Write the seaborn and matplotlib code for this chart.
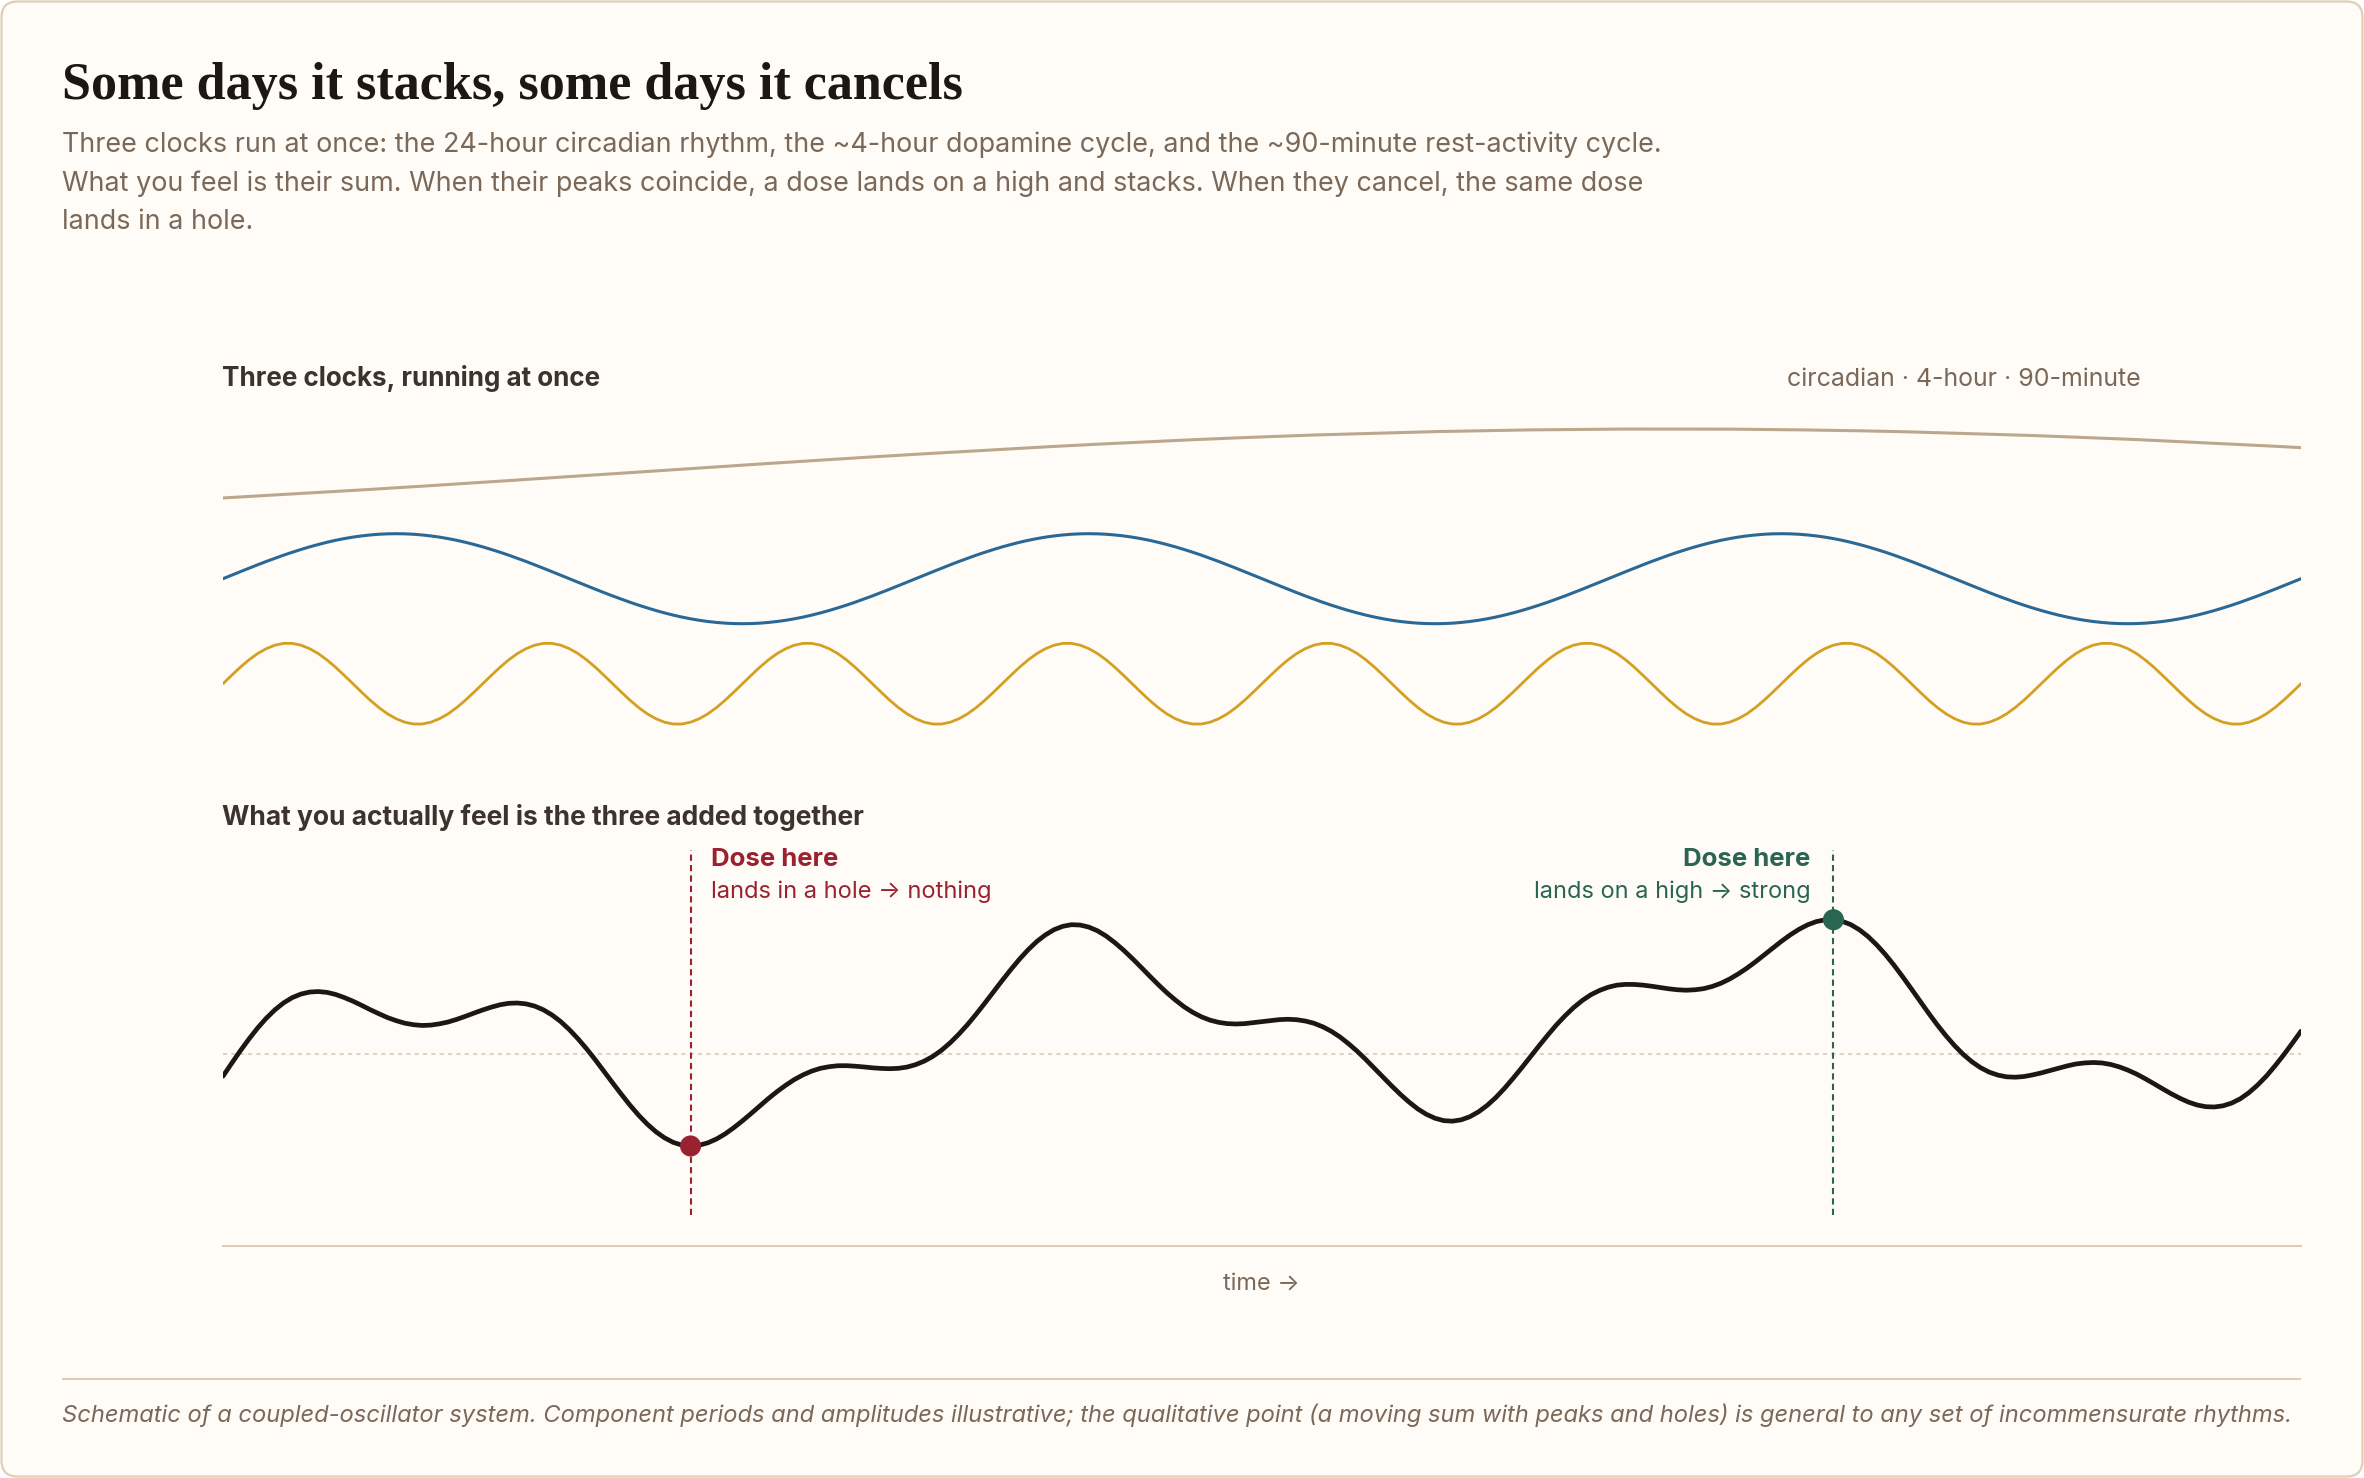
import matplotlib
matplotlib.use("Agg")
import matplotlib.pyplot as plt
from matplotlib.patches import FancyBboxPatch
import pandas as pd
import seaborn as sns

# --- data: three clocks, one sample every 3 minutes over 12 h ---
# units: dopamine swing = 1
minutes = list(range(0, 721, 3))

# 24 h circadian, peaks ~8h20 in
circadian = [
    -0.304, -0.298, -0.292, -0.287, -0.281, -0.275, -0.269, -0.263, -0.257, -0.251,
    -0.245, -0.239, -0.232, -0.226, -0.220, -0.213, -0.207, -0.201, -0.194, -0.188,
    -0.181, -0.175, -0.168, -0.162, -0.155, -0.148, -0.142, -0.135, -0.128, -0.121,
    -0.115, -0.108, -0.101, -0.094, -0.088, -0.081, -0.074, -0.067, -0.060, -0.053,
    -0.046, -0.039, -0.032, -0.025, -0.019, -0.012, -0.005, 0.002, 0.009, 0.016,
    0.023, 0.030, 0.037, 0.044, 0.051, 0.058, 0.065, 0.071, 0.078, 0.085,
    0.092, 0.099, 0.106, 0.113, 0.119, 0.126, 0.133, 0.139, 0.146, 0.153,
    0.159, 0.166, 0.173, 0.179, 0.186, 0.192, 0.199, 0.205, 0.211, 0.218,
    0.224, 0.230, 0.237, 0.243, 0.249, 0.255, 0.261, 0.267, 0.273, 0.279,
    0.285, 0.291, 0.296, 0.302, 0.308, 0.313, 0.319, 0.324, 0.330, 0.335,
    0.341, 0.346, 0.351, 0.356, 0.362, 0.367, 0.372, 0.376, 0.381, 0.386,
    0.391, 0.395, 0.400, 0.404, 0.409, 0.413, 0.418, 0.422, 0.426, 0.430,
    0.434, 0.438, 0.442, 0.446, 0.449, 0.453, 0.457, 0.460, 0.464, 0.467,
    0.470, 0.473, 0.476, 0.479, 0.482, 0.485, 0.488, 0.491, 0.493, 0.496,
    0.498, 0.500, 0.503, 0.505, 0.507, 0.509, 0.511, 0.512, 0.514, 0.516,
    0.517, 0.519, 0.520, 0.521, 0.523, 0.524, 0.525, 0.526, 0.527, 0.527,
    0.528, 0.529, 0.529, 0.529, 0.530, 0.530, 0.530, 0.530, 0.530, 0.530,
    0.530, 0.529, 0.529, 0.528, 0.528, 0.527, 0.526, 0.525, 0.524, 0.523,
    0.522, 0.521, 0.519, 0.518, 0.516, 0.515, 0.513, 0.511, 0.510, 0.508,
    0.506, 0.503, 0.501, 0.499, 0.497, 0.494, 0.491, 0.489, 0.486, 0.483,
    0.480, 0.477, 0.474, 0.471, 0.468, 0.465, 0.461, 0.458, 0.454, 0.451,
    0.447, 0.443, 0.439, 0.435, 0.432, 0.427, 0.423, 0.419, 0.415, 0.410,
    0.406, 0.402, 0.397, 0.392, 0.388, 0.383, 0.378, 0.373, 0.368, 0.363,
    0.358, 0.353, 0.348, 0.342, 0.337, 0.332, 0.326, 0.321, 0.315, 0.310,
    0.304,
]

# ~4 h dopamine cycle
dopamine = [
    0.0, 0.079, 0.156, 0.233, 0.309, 0.383, 0.454, 0.523, 0.588, 0.649,
    0.707, 0.760, 0.809, 0.853, 0.891, 0.924, 0.951, 0.972, 0.988, 0.997,
    1.0, 0.997, 0.988, 0.972, 0.951, 0.924, 0.891, 0.853, 0.809, 0.760,
    0.707, 0.649, 0.588, 0.523, 0.454, 0.383, 0.309, 0.233, 0.156, 0.079,
    0.0, -0.079, -0.156, -0.233, -0.309, -0.383, -0.454, -0.523, -0.588, -0.649,
    -0.707, -0.760, -0.809, -0.853, -0.891, -0.924, -0.951, -0.972, -0.988, -0.997,
    -1.0, -0.997, -0.988, -0.972, -0.951, -0.924, -0.891, -0.853, -0.809, -0.760,
    -0.707, -0.649, -0.588, -0.523, -0.454, -0.383, -0.309, -0.233, -0.156, -0.079,
    0.0, 0.079, 0.156, 0.233, 0.309, 0.383, 0.454, 0.523, 0.588, 0.649,
    0.707, 0.760, 0.809, 0.853, 0.891, 0.924, 0.951, 0.972, 0.988, 0.997,
    1.0, 0.997, 0.988, 0.972, 0.951, 0.924, 0.891, 0.853, 0.809, 0.760,
    0.707, 0.649, 0.588, 0.523, 0.454, 0.383, 0.309, 0.233, 0.156, 0.079,
    0.0, -0.079, -0.156, -0.233, -0.309, -0.383, -0.454, -0.523, -0.588, -0.649,
    -0.707, -0.760, -0.809, -0.853, -0.891, -0.924, -0.951, -0.972, -0.988, -0.997,
    -1.0, -0.997, -0.988, -0.972, -0.951, -0.924, -0.891, -0.853, -0.809, -0.760,
    -0.707, -0.649, -0.588, -0.523, -0.454, -0.383, -0.309, -0.233, -0.156, -0.079,
    0.0, 0.079, 0.156, 0.233, 0.309, 0.383, 0.454, 0.523, 0.588, 0.649,
    0.707, 0.760, 0.809, 0.853, 0.891, 0.924, 0.951, 0.972, 0.988, 0.997,
    1.0, 0.997, 0.988, 0.972, 0.951, 0.924, 0.891, 0.853, 0.809, 0.760,
    0.707, 0.649, 0.588, 0.523, 0.454, 0.383, 0.309, 0.233, 0.156, 0.079,
    0.0, -0.079, -0.156, -0.233, -0.309, -0.383, -0.454, -0.523, -0.588, -0.649,
    -0.707, -0.760, -0.809, -0.853, -0.891, -0.924, -0.951, -0.972, -0.988, -0.997,
    -1.0, -0.997, -0.988, -0.972, -0.951, -0.924, -0.891, -0.853, -0.809, -0.760,
    -0.707, -0.649, -0.588, -0.523, -0.454, -0.383, -0.309, -0.233, -0.156, -0.079,
    0.0,
]

# ~90 min rest-activity cycle
ultradian = [
    0.0, 0.089, 0.175, 0.253, 0.320, 0.372, 0.409, 0.428, 0.428, 0.409, 0.372, 0.320, 0.253, 0.175, 0.089,
    0.0, -0.089, -0.175, -0.253, -0.320, -0.372, -0.409, -0.428, -0.428, -0.409, -0.372, -0.320, -0.253, -0.175, -0.089,
    0.0, 0.089, 0.175, 0.253, 0.320, 0.372, 0.409, 0.428, 0.428, 0.409, 0.372, 0.320, 0.253, 0.175, 0.089,
    0.0, -0.089, -0.175, -0.253, -0.320, -0.372, -0.409, -0.428, -0.428, -0.409, -0.372, -0.320, -0.253, -0.175, -0.089,
    0.0, 0.089, 0.175, 0.253, 0.320, 0.372, 0.409, 0.428, 0.428, 0.409, 0.372, 0.320, 0.253, 0.175, 0.089,
    0.0, -0.089, -0.175, -0.253, -0.320, -0.372, -0.409, -0.428, -0.428, -0.409, -0.372, -0.320, -0.253, -0.175, -0.089,
    0.0, 0.089, 0.175, 0.253, 0.320, 0.372, 0.409, 0.428, 0.428, 0.409, 0.372, 0.320, 0.253, 0.175, 0.089,
    0.0, -0.089, -0.175, -0.253, -0.320, -0.372, -0.409, -0.428, -0.428, -0.409, -0.372, -0.320, -0.253, -0.175, -0.089,
    0.0, 0.089, 0.175, 0.253, 0.320, 0.372, 0.409, 0.428, 0.428, 0.409, 0.372, 0.320, 0.253, 0.175, 0.089,
    0.0, -0.089, -0.175, -0.253, -0.320, -0.372, -0.409, -0.428, -0.428, -0.409, -0.372, -0.320, -0.253, -0.175, -0.089,
    0.0, 0.089, 0.175, 0.253, 0.320, 0.372, 0.409, 0.428, 0.428, 0.409, 0.372, 0.320, 0.253, 0.175, 0.089,
    0.0, -0.089, -0.175, -0.253, -0.320, -0.372, -0.409, -0.428, -0.428, -0.409, -0.372, -0.320, -0.253, -0.175, -0.089,
    0.0, 0.089, 0.175, 0.253, 0.320, 0.372, 0.409, 0.428, 0.428, 0.409, 0.372, 0.320, 0.253, 0.175, 0.089,
    0.0, -0.089, -0.175, -0.253, -0.320, -0.372, -0.409, -0.428, -0.428, -0.409, -0.372, -0.320, -0.253, -0.175, -0.089,
    0.0, 0.089, 0.175, 0.253, 0.320, 0.372, 0.409, 0.428, 0.428, 0.409, 0.372, 0.320, 0.253, 0.175, 0.089,
    0.0, -0.089, -0.175, -0.253, -0.320, -0.372, -0.409, -0.428, -0.428, -0.409, -0.372, -0.320, -0.253, -0.175, -0.089,
    0.0,
]

dose_minutes = [162, 558]          # the hole, the high
dose_kind = ["hole", "high"]
dose_title = ["Dose here", "Dose here"]
dose_note = ["lands in a hole \u2192 nothing", "lands on a high \u2192 strong"]

title = "Some days it stacks, some days it cancels"
subtitle = [
    "Three clocks run at once: the 24-hour circadian rhythm, the ~4-hour dopamine cycle, and the ~90-minute rest-activity cycle.",
    "What you feel is their sum. When their peaks coincide, a dose lands on a high and stacks. When they cancel, the same dose",
    "lands in a hole.",
]
top_label = "Three clocks, running at once"
top_key = "circadian \u00b7 4-hour \u00b7 90-minute"
bottom_label = "What you actually feel is the three added together"
x_label = "time \u2192"
footer = ("Schematic of a coupled-oscillator system. Component periods and amplitudes illustrative; "
          "the qualitative point (a moving sum with peaks and holes) is general to any set of incommensurate rhythms.")

# --- colours ---
BG = "#fffbf7"
BORDER = "#dfcfb3"
INK = "#1c1714"
SUB = "#7a6858"
LABEL = "#3d332d"
TAN = "#bba78b"
BLUE = "#2a6896"
GOLD = "#d4a021"
RED = "#9a2230"
GREEN = "#2a6552"
RULE = "#dccdb3"

W, H = 2364, 1478
X0, X1 = 223, 2301      # plot left / right, pixels

sns.set_theme(style="white")
plt.rcParams['font.family'] = ['Inter', 'DejaVu Sans']

df = pd.DataFrame({'minute': minutes, 'circadian': circadian,
                   'dopamine': dopamine, 'ultradian': ultradian})
df['hours'] = df['minute'] / 60
df['feel'] = df['circadian'] + df['dopamine'] + df['ultradian']

fig = plt.figure(figsize=(W / 100, H / 100), dpi=100, facecolor='white')

# background card, drawn in pixel coordinates
bg = fig.add_axes([0, 0, 1, 1])
bg.set_xlim(0, W)
bg.set_ylim(H, 0)
bg.axis('off')
bg.add_patch(FancyBboxPatch((1.5, 1.5), W - 3, H - 3,
                            boxstyle="round,pad=0,rounding_size=16",
                            fc=BG, ec=BORDER, lw=1.6))


def px_axes(l, t, r, b):
    ax = fig.add_axes([l / W, 1 - b / H, (r - l) / W, (b - t) / H])
    ax.set_facecolor('none')
    return ax


# top panel: one thin band per clock (centre px, px per unit)
bands = [('circadian', 472.8, 82.7, TAN, 2.2),
         ('dopamine', 578.7, 45.0, BLUE, 2.2),
         ('ultradian', 683.7, 94.2, GOLD, 2.0)]
for col, cy, scale, color, lw in bands:
    half = 60
    ax = px_axes(X0, cy - half, X1, cy + half)
    sns.lineplot(data=df, x='hours', y=col, ax=ax, color=color, lw=lw)
    ax.set_xlim(0, 12)
    ax.set_ylim(-half / scale, half / scale)
    ax.set_axis_off()

# bottom panel: the sum
base, scale, top, bot = 1053.7, 73.9, 850, 1245.7
axf = px_axes(X0, top, X1, bot)
axf.set_xlim(0, 12)
axf.set_ylim(-(bot - base) / scale, (base - top) / scale)
axf.axhline(0, color="#d9ccb2", lw=1.2, ls=(0, (2.5, 2.5)), zorder=1)

dose = df[df['minute'].isin(dose_minutes)].copy()
dose['kind'] = dose_kind
for h, c in zip(dose['hours'], [RED, GREEN]):
    axf.axvline(h, ymin=(bot - 1215) / (bot - top), ymax=1, color=c,
                lw=1.5, ls=(0, (3, 2)), zorder=2)

sns.lineplot(data=df, x='hours', y='feel', ax=axf, color=INK, lw=3.4, zorder=3)
sns.scatterplot(data=dose, x='hours', y='feel', hue='kind', palette=[RED, GREEN],
                s=230, linewidth=0, legend=False, ax=axf, zorder=5)
sns.despine(ax=axf, left=True)
axf.spines['bottom'].set_color(RULE)
axf.spines['bottom'].set_linewidth(1.5)
axf.set_xticks([])
axf.set_yticks([])
axf.set_xlabel('')
axf.set_ylabel('')

# --- text ---
r = fig.canvas.get_renderer()


def fit(t, w):
    bb = t.get_window_extent(renderer=r)
    t.set_fontsize(t.get_fontsize() * w / bb.width)


t = bg.text(62, 99, title, fontsize=34, fontweight='bold', color=INK,
            family=['Liberation Serif', 'DejaVu Serif'], va='baseline')
fit(t, 902)

subs = [bg.text(62, y, s, fontsize=18, color=SUB, va='baseline')
        for y, s in zip([151.7, 190.7, 229.3], subtitle)]
fit(subs[0], 1591)
for s in subs[1:]:
    s.set_fontsize(subs[0].get_fontsize())

t = bg.text(222, 386, top_label, fontsize=17, fontweight='bold', color=LABEL, va='baseline')
fit(t, 378)
t = bg.text(2141, 386, top_key, fontsize=17, color=SUB, va='baseline', ha='right')
fit(t, 354)
t = bg.text(222, 825, bottom_label, fontsize=17, fontweight='bold', color=LABEL, va='baseline')
fit(t, 643)

for i, (h, c) in enumerate(zip(dose['hours'], [RED, GREEN])):
    xp = X0 + h / 12 * (X1 - X0)
    if i == 0:
        xt, ha = xp + 20, 'left'
    else:
        xt, ha = xp - 23, 'right'
    t1 = bg.text(xt, 865.7, dose_title[i], fontsize=19, fontweight='bold', color=c,
                 va='baseline', ha=ha)
    fit(t1, 127)
    t2 = bg.text(xt, 898.3, dose_note[i], fontsize=17, color=c, va='baseline', ha=ha)
    fit(t2, 281 if i == 0 else 276)

t = bg.text(1261, 1290, x_label, fontsize=16, color=SUB, va='baseline', ha='center')
fit(t, 77)

bg.hlines(1379, 62, 2301, color=RULE, lw=1.5)
t = bg.text(62, 1421.7, footer, fontsize=16, color=SUB, style='italic', va='baseline')
fit(t, 2234)

fig.savefig('out.png', dpi=100, facecolor='white')
